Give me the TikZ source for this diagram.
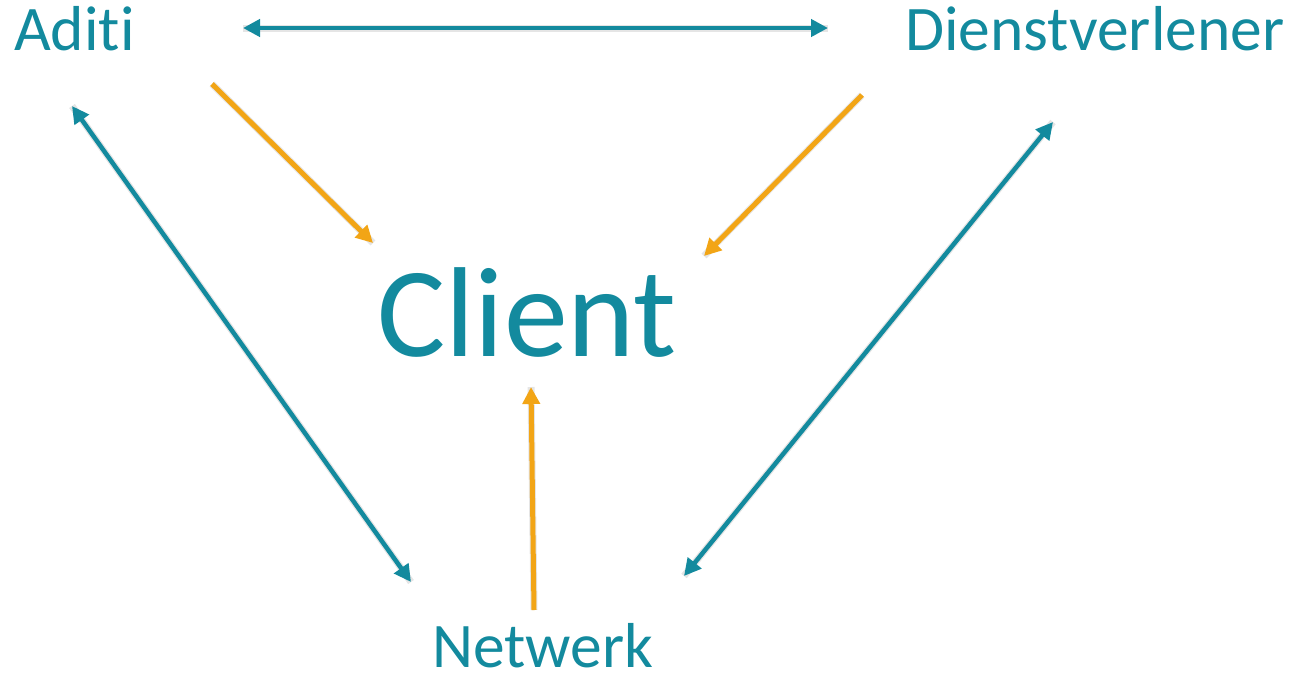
\documentclass[tikz,border=0pt]{standalone}
\usepackage{fontspec}
\setmainfont[Ligatures={NoCommon}]{Carlito}
\usetikzlibrary{arrows.meta}
\definecolor{teal1}{HTML}{138A9E}
\definecolor{orange1}{HTML}{F2A516}
\tikzset{
  lbl/.style={inner sep=0pt, anchor=base west, text=teal1, font=\fontsize{63.5}{76}\selectfont},
  biarrow/.style={draw=teal1, line width=4.5pt, {Triangle[length=17pt,width=17pt]}-{Triangle[length=17pt,width=17pt]}},
  onearrow/.style={draw=orange1, line width=5pt, -{Triangle[length=17pt,width=17pt]}},
  shade/.style={draw=black, opacity=0.1, line width=7pt},
}
\begin{document}
\begin{tikzpicture}[x=1pt,y=-1pt]
\useasboundingbox (0,0) rectangle (1291,678);
\node[lbl] (aditi) at (14,50) {Aditi};
\node[lbl] (dienst) at (905,50) {Dienstverlener};
\node[lbl, font=\fontsize{128}{150}\selectfont] (client) at (377,356) {Client};
\node[lbl] (netwerk) at (432,667) {Netwerk};
% endpoints
\coordinate (a1) at (243,28); \coordinate (a2) at (828,28);
\coordinate (b1) at (72,106); \coordinate (b2) at (411,582);
\coordinate (c1) at (1053,122); \coordinate (c2) at (684,576);
\coordinate (o1s) at (212,84); \coordinate (o1e) at (373,243);
\coordinate (o2s) at (862,95); \coordinate (o2e) at (704,256);
\coordinate (o3s) at (534,610); \coordinate (o3e) at (531,387);
% shadows
\begin{scope}[shift={(3,4)}]
\draw[shade] (a1) -- (a2);
\draw[shade] (b1) -- (b2);
\draw[shade] (c1) -- (c2);
\draw[shade] (o1s) -- (o1e);
\draw[shade] (o2s) -- (o2e);
\draw[shade] (o3s) -- (o3e);
\end{scope}
\draw[biarrow] (a1) -- (a2);
\draw[biarrow] (b1) -- (b2);
\draw[biarrow] (c1) -- (c2);
\draw[onearrow] (o1s) -- (o1e);
\draw[onearrow] (o2s) -- (o2e);
\draw[onearrow] (o3s) -- (o3e);
\end{tikzpicture}
\end{document}
